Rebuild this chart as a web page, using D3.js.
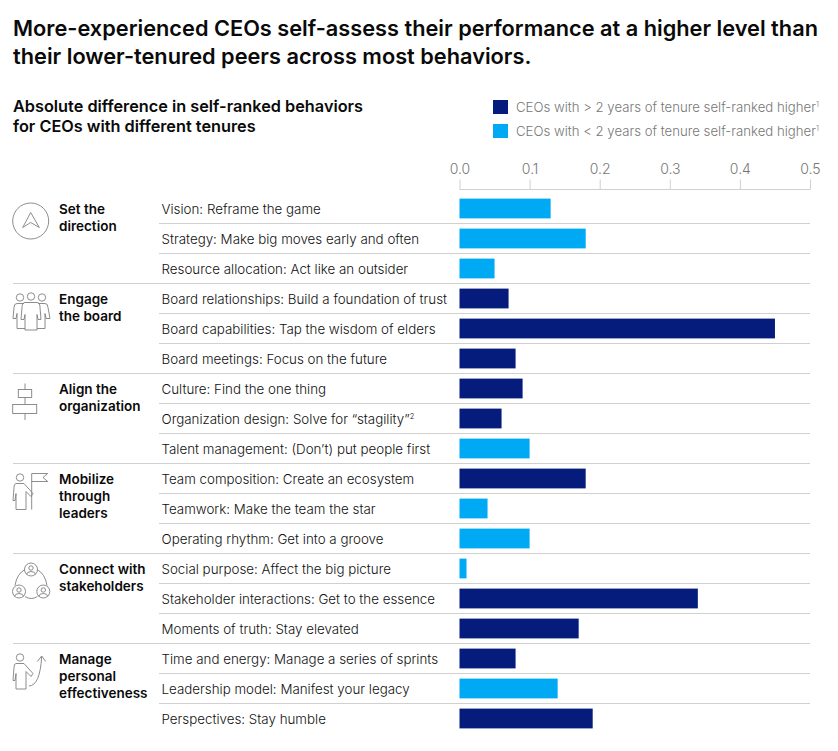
<!DOCTYPE html>
<html>
<head>
<meta charset="utf-8">
<script src="https://cdnjs.cloudflare.com/ajax/libs/d3/7.8.5/d3.min.js"></script>
<style>
  html, body { margin: 0; padding: 0; background: #fff; }
  svg { display: block; }
  text { font-family: Inter, Roboto, sans-serif; }
</style>
</head>
<body>
<div id="chart"></div>
<script>
const titleLines = [
  'More-experienced CEOs self-assess their performance at a higher level than',
  'their lower-tenured peers across most behaviors.'
]
const subtitleLines = [
  'Absolute difference in self-ranked behaviors',
  'for CEOs with different tenures'
]
const legendLabels = [
  'CEOs with > 2 years of tenure self-ranked higher',
  'CEOs with < 2 years of tenure self-ranked higher'
]
const ticks = [0, 0.1, 0.2, 0.3, 0.4, 0.5]

const behaviors = [
  'Vision: Reframe the game',
  'Strategy: Make big moves early and often',
  'Resource allocation: Act like an outsider',
  'Board relationships: Build a foundation of trust',
  'Board capabilities: Tap the wisdom of elders',
  'Board meetings: Focus on the future',
  'Culture: Find the one thing',
  'Organization design: Solve for “stagility”',
  'Talent management: (Don’t) put people first',
  'Team composition: Create an ecosystem',
  'Teamwork: Make the team the star',
  'Operating rhythm: Get into a groove',
  'Social purpose: Affect the big picture',
  'Stakeholder interactions: Get to the essence',
  'Moments of truth: Stay elevated',
  'Time and energy: Manage a series of sprints',
  'Leadership model: Manifest your legacy',
  'Perspectives: Stay humble'
]
const values = [0.13, 0.18, 0.05, 0.07, 0.45, 0.08, 0.09, 0.06, 0.1, 0.18, 0.04, 0.1, 0.01, 0.34, 0.17, 0.08, 0.14, 0.19]
// 'long' = more than 2 years of tenure ranked higher, 'short' = less than 2 years
const tenure = ['short', 'short', 'short', 'long', 'long', 'long', 'long', 'long', 'short',
  'long', 'short', 'short', 'short', 'long', 'long', 'long', 'short', 'long']

const groups = [
  ['Set the', 'direction'],
  ['Engage', 'the board'],
  ['Align the', 'organization'],
  ['Mobilize', 'through', 'leaders'],
  ['Connect with', 'stakeholders'],
  ['Manage', 'personal', 'effectiveness']
]

const width = 838
const height = 751
const navy = '#051c7c'
const sky = '#00a9f4'
const rule = '#d0d0d0'
const ink = '#0a0a0a'
const grey = '#777777'

const svg = d3
  .select('#chart')
  .append('svg')
  .attr('width', width)
  .attr('height', height)

const x = d3.scaleLinear().domain([0, 0.5]).range([459.5, 810])
const y = d3.scaleBand().domain(d3.range(behaviors.length)).range([193.5, 733.5]).paddingInner(0.34).paddingOuter(0.17)
const color = d3.scaleOrdinal().domain(['long', 'short']).range([navy, sky])

// headline
svg.selectAll('.title')
  .data(titleLines)
  .enter()
  .append('text')
  .attr('class', 'title')
  .attr('x', 13)
  .attr('y', (d, i) => 36 + i * 28)
  .attr('font-size', 21.75)
  .attr('font-weight', 600)
  .attr('fill', ink)
  .text(d => d)

svg.selectAll('.subtitle')
  .data(subtitleLines)
  .enter()
  .append('text')
  .attr('class', 'subtitle')
  .attr('x', 13)
  .attr('y', (d, i) => 111.5 + i * 20)
  .attr('font-size', 16.3)
  .attr('font-weight', 600)
  .attr('fill', ink)
  .text(d => d)

// legend
const legend = svg.selectAll('.legend')
  .data(legendLabels)
  .enter()
  .append('g')
  .attr('class', 'legend')
  .attr('transform', (d, i) => `translate(493,${100 + i * 24})`)

legend.append('rect')
  .attr('width', 15)
  .attr('height', 14)
  .attr('fill', (d, i) => color.range()[i])

const legendText = legend.append('text')
  .attr('x', 23)
  .attr('y', 12)
  .attr('font-size', 13.2)
  .attr('font-weight', 300)
  .attr('fill', grey)
  .text(d => d)

legendText.append('tspan')
  .attr('font-size', 7.5)
  .attr('dy', -5)
  .text('1')

// axis
const axis = d3.axisTop(x)
  .tickValues(ticks)
  .tickFormat(d3.format('.1f'))
  .tickSize(10)
  .tickPadding(6)

const axisG = svg.append('g')
  .attr('transform', 'translate(0,189.5)')
  .call(axis)

axisG.select('.domain').attr('stroke', rule).attr('d', `M${x(0)},0H${x(0.5)}`)
axisG.selectAll('.tick line').attr('stroke', rule)
axisG.selectAll('.tick text')
  .attr('font-family', 'Inter, Roboto, sans-serif')
  .attr('font-size', 14)
  .attr('font-weight', 300)
  .attr('fill', grey)

// row rules, the first row of each group has a full width one
const rows = svg.append('g')

rows.selectAll('line')
  .data(d3.range(1, behaviors.length))
  .enter()
  .append('line')
  .attr('x1', d => (d % 3 === 0 ? 13 : 159))
  .attr('x2', 810)
  .attr('y1', d => y(d) - y.step() * y.paddingInner() / 2)
  .attr('y2', d => y(d) - y.step() * y.paddingInner() / 2)
  .attr('stroke', rule)

// behavior labels
svg.selectAll('.behavior')
  .data(behaviors)
  .enter()
  .append('text')
  .attr('class', 'behavior')
  .attr('x', 161.5)
  .attr('y', (d, i) => y(i) + y.bandwidth() / 2 + 5)
  .attr('font-size', 13.35)
  .attr('font-weight', 300)
  .attr('fill', '#111')
  .text(d => d)
  .filter(d => d.includes('stagility'))
  .append('tspan')
  .attr('font-size', 7.5)
  .attr('dy', -5)
  .text('2')

// bars
svg.selectAll('.bar')
  .data(values)
  .enter()
  .append('rect')
  .attr('class', 'bar')
  .attr('x', x(0))
  .attr('y', (d, i) => y(i))
  .attr('width', d => x(d) - x(0))
  .attr('height', y.bandwidth())
  .attr('fill', (d, i) => color(tenure[i]))

// group labels
const groupG = svg.selectAll('.group')
  .data(groups)
  .enter()
  .append('g')
  .attr('class', 'group')
  .attr('transform', (d, i) => `translate(0,${y(i * 3) - y.step() * y.paddingInner() / 2})`)

groupG.selectAll('text')
  .data(d => d)
  .enter()
  .append('text')
  .attr('x', 59)
  .attr('y', (d, i) => 20 + i * 17)
  .attr('font-size', 13.5)
  .attr('font-weight', 600)
  .attr('fill', ink)
  .text(d => d)

// icons, thin grey outlines
const icons = [
  g => {
    g.append('circle').attr('cx', 30.7).attr('cy', 27.5).attr('r', 18)
    g.append('path').attr('d', 'M30.7,19 L39.3,34 L30.7,29 L22.7,34 Z')
  },
  g => {
    g.append('circle').attr('cx', 20).attr('cy', 14).attr('r', 3.7)
    g.append('circle').attr('cx', 31).attr('cy', 13).attr('r', 3.7)
    g.append('circle').attr('cx', 42).attr('cy', 14).attr('r', 3.7)
    g.append('path').attr('d', 'M24,20 H17 Q14,20 14,24 L13,35 H16 L17,30 V45 H25')
    g.append('path').attr('d', 'M38,20 H45 Q48,20 48,24 L50,35 H46 L45,30 V45 H37')
    g.append('path').attr('d', 'M25,19 H37 Q40,19 40,24 L41,36 H38 L37,31 V46.5 H25 V31 L24,36 H21 L22,24 Q22,19 25,19 Z')
  },
  g => {
    g.append('path').attr('d', 'M25,10 V46.5')
    g.append('rect').attr('x', 18.3).attr('y', 16).attr('width', 13.4).attr('height', 8).attr('fill', '#fff')
    g.append('rect').attr('x', 12.7).attr('y', 31).attr('width', 24).attr('height', 9).attr('fill', '#fff')
  },
  g => {
    g.append('circle').attr('cx', 20).attr('cy', 14).attr('r', 3.7)
    g.append('path').attr('d', 'M16,20 H24 L33,30 L31,33 L26,28 V46 H16 V30 L15,37 H13 L14,24 Q14,20 16,20 Z')
    g.append('path').attr('d', 'M31.7,46 V10 H47.7 L43,14 L47.7,18 H31.7')
  },
  g => {
    g.append('circle').attr('cx', 31).attr('cy', 16).attr('r', 6.5)
    g.append('circle').attr('cx', 19).attr('cy', 38).attr('r', 6.5)
    g.append('circle').attr('cx', 43.3).attr('cy', 38).attr('r', 6.5)
    g.append('circle').attr('cx', 31).attr('cy', 14.5).attr('r', 2.2)
    g.append('circle').attr('cx', 19).attr('cy', 36.5).attr('r', 2.2)
    g.append('circle').attr('cx', 43.3).attr('cy', 36.5).attr('r', 2.2)
    g.append('path').attr('d', 'M26.5,21 Q27,18 31,18 Q35,18 35.5,21 M14.5,43 Q15,40 19,40 Q23,40 23.5,43 M38.8,43 Q39.3,40 43.3,40 Q47.3,40 47.8,43')
    g.append('path').attr('d', 'M25,16 Q17,20 15,32 M37,16 Q45,20 47,32 M25,43 Q31,47 37.5,43')
  },
  g => {
    g.append('circle').attr('cx', 20).attr('cy', 14).attr('r', 3.7)
    g.append('path').attr('d', 'M16,20 H24 L33,30 L31,33 L26,28 V45.5 H16 V30 L15,37 H13 L14,24 Q14,20 16,20 Z')
    g.append('path').attr('d', 'M29,42.5 Q40,42 41.7,13 M37.3,18 L41.7,12.5 L45.7,18')
  }
]

groupG.each(function(d, i) {
  const g = d3.select(this)
    .append('g')
    .attr('fill', 'none')
    .attr('stroke', '#808080')
    .attr('stroke-width', 0.9)
  icons[i](g)
})
</script>
</body>
</html>
